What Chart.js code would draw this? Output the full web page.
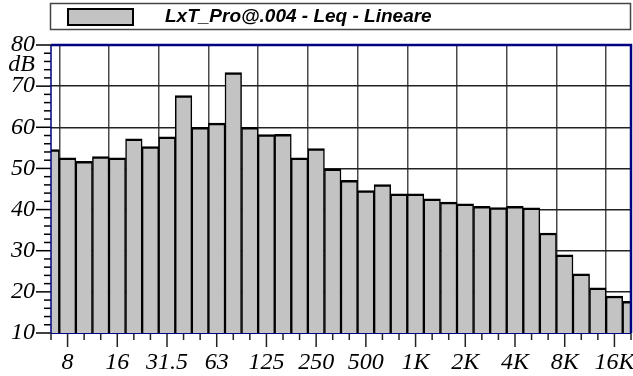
<!DOCTYPE html>
<html><head><meta charset="utf-8">
<script src="https://cdn.jsdelivr.net/npm/chart.js@4/dist/chart.umd.min.js"></script>
<style>html,body{margin:0;padding:0;background:#fff;}#wrap{width:633px;height:376px;position:relative;}</style>
</head><body><div id="wrap"><canvas id="c" width="633" height="376"></canvas></div>
<script>
const bands = ['6.3','8','10','12.5','16','20','25','31.5','40','50','63','80','100','125','160','200','250','315','400','500','630','800','1K','1.25K','1.6K','2K','2.5K','3.15K','4K','5K','6.3K','8K','10K','12.5K','16K','20K'];
const leqValues = [54.6,52.6,51.7,52.9,52.6,57.2,55.3,57.7,67.7,60.0,61.0,73.3,60.0,58.2,58.3,52.6,54.8,49.9,47.1,44.6,46.1,43.8,43.8,42.6,41.8,41.4,40.8,40.5,40.8,40.4,34.3,29.0,24.4,21.0,19.0,17.7];
const tickLabels = ['8','16','31.5','63','125','250','500','1K','2K','4K','8K','16K'];
const seriesName = 'LxT_Pro@.004 - Leq - Lineare';
const yUnit = 'dB';
const yMin = 10, yMax = 80, yMinorStep = 2, yMajorStep = 10;

const serifFamily = "'Liberation Serif', 'Times New Roman', Times, serif";
const serifFont = {family: serifFamily, style: 'italic', weight: 'normal', size: 24};
const frameColor = '#000080';
const barFill = '#c3c3c3';

const decorPlugin = {
  id: 'decor',
  afterDraw(chart) {
    const ctx = chart.ctx;
    const a = chart.chartArea;
    const xs = chart.scales.x, ys = chart.scales.y;
    ctx.save();
    ctx.strokeStyle = '#000';
    ctx.lineWidth = 1.5;
    ys.ticks.forEach(t => {
      const y = ys.getPixelForValue(t.value);
      const major = t.value % yMajorStep === 0;
      ctx.beginPath();
      ctx.moveTo(a.left - (major ? 15 : 7), y);
      ctx.lineTo(a.left, y);
      ctx.stroke();
    });
    ctx.strokeStyle = '#222';
    xs.ticks.forEach((t, i) => {
      const x = xs.getPixelForTick(i);
      const major = tickLabels.includes(bands[i]);
      ctx.beginPath();
      ctx.moveTo(x, a.bottom);
      ctx.lineTo(x, a.bottom + (major ? 14 : 7));
      ctx.stroke();
    });
    ctx.strokeStyle = frameColor;
    ctx.lineWidth = 2.5;
    ctx.beginPath(); ctx.moveTo(a.left, a.top); ctx.lineTo(a.right, a.top); ctx.lineTo(a.right, a.bottom); ctx.stroke();
    ctx.lineWidth = 1.5;
    ctx.beginPath(); ctx.moveTo(a.left, a.top); ctx.lineTo(a.left, a.bottom); ctx.stroke();
    ctx.lineWidth = 1;
    ctx.beginPath(); ctx.moveTo(a.left, a.bottom + 0.5); ctx.lineTo(a.right, a.bottom + 0.5); ctx.stroke();
    ctx.fillStyle = '#000';
    ctx.font = "italic 24px " + serifFamily;
    ctx.textAlign = 'right';
    ctx.textBaseline = 'middle';
    ctx.fillText(yUnit, a.left - 16, (ys.getPixelForValue(80) + ys.getPixelForValue(70)) / 2 - 1);
    ctx.strokeStyle = '#444';
    ctx.lineWidth = 1.5;
    ctx.strokeRect(50.5, 3.5, 580, 26);
    ctx.fillStyle = barFill;
    ctx.fillRect(67, 8, 67, 18);
    ctx.strokeStyle = '#000';
    ctx.lineWidth = 2;
    ctx.strokeRect(68, 9, 65, 16);
    ctx.fillStyle = '#000';
    ctx.font = "italic bold 19px 'Liberation Sans', Arial, sans-serif";
    ctx.textAlign = 'left';
    ctx.textBaseline = 'middle';
    ctx.fillText(seriesName, 165, 16.5);
    ctx.restore();
  }
};

function build() {
  new Chart(document.getElementById('c'), {
    type: 'bar',
    data: {
      labels: bands,
      datasets: [{
        label: seriesName,
        data: leqValues,
        backgroundColor: barFill,
        borderColor: '#000',
        borderWidth: {top: 2.5, left: 1.5, right: 1.5, bottom: 0},
        borderSkipped: false,
        barPercentage: 1,
        categoryPercentage: 1,
        clip: 0
      }]
    },
    options: {
      responsive: false,
      devicePixelRatio: 1,
      animation: false,
      layout: {padding: {left: 0, top: 45, right: 2, bottom: 0}},
      plugins: {legend: {display: false}, tooltip: {enabled: false}},
      scales: {
        x: {
          type: 'category',
          offset: false,
          border: {display: false},
          grid: {
            color: c => tickLabels.includes(bands[c.index]) ? '#4a4a4a' : 'rgba(0,0,0,0)',
            lineWidth: 1.5,
            drawTicks: true,
            tickLength: 14,
            tickColor: 'rgba(0,0,0,0)'
          },
          ticks: {
            autoSkip: false, maxRotation: 0, minRotation: 0, padding: 1,
            font: serifFont, color: '#000',
            callback: (v, i) => tickLabels.includes(bands[i]) ? bands[i] : ''
          },
          afterFit: s => { s.height = 43; }
        },
        y: {
          type: 'linear',
          min: yMin, max: yMax,
          border: {display: false},
          grid: {
            color: c => (c.tick && c.tick.value % yMajorStep === 0 && c.tick.value > yMin && c.tick.value < yMax) ? '#222' : 'rgba(0,0,0,0)',
            lineWidth: 1.5,
            drawTicks: true,
            tickLength: 15,
            tickColor: 'rgba(0,0,0,0)'
          },
          ticks: {
            stepSize: yMinorStep, autoSkip: false, maxTicksLimit: 100, padding: 1,
            font: serifFont, color: '#000',
            callback: v => v % yMajorStep === 0 ? v : ''
          },
          afterFit: s => { s.width = 51; }
        }
      }
    },
    plugins: [decorPlugin]
  });
}
Promise.all([
  document.fonts.load("italic 24px 'Liberation Serif'"),
  document.fonts.load("italic bold 19px 'Liberation Sans'")
]).then(build, build);
</script>
</body></html>
